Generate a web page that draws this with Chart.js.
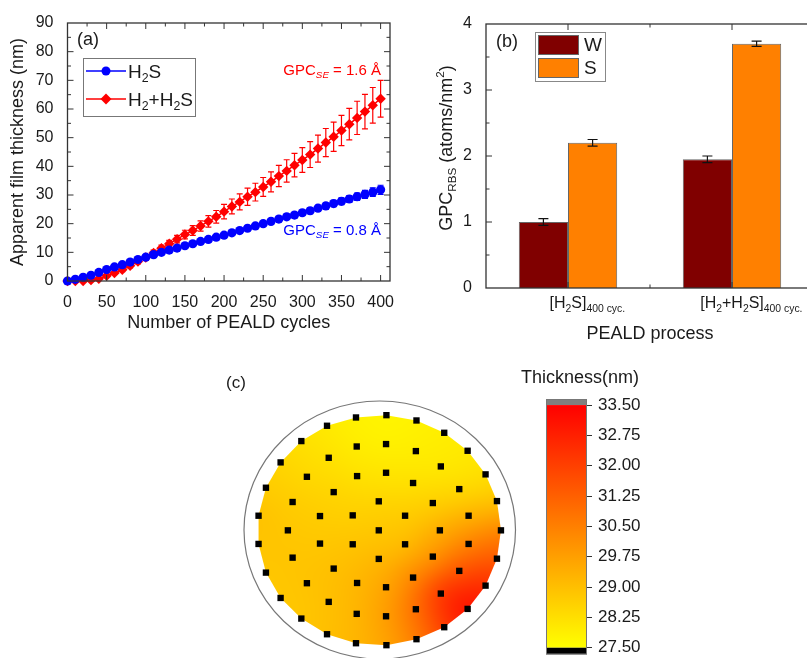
<!DOCTYPE html>
<html>
<head>
<meta charset="utf-8">
<script src="https://cdn.jsdelivr.net/npm/chart.js@4.4.0/dist/chart.umd.min.js"></script>
<style>
  html, body { margin: 0; padding: 0; background: #fff; overflow: hidden; width: 807px; height: 658px; }
  canvas { position: absolute; }
</style>
</head>
<body>
<canvas id="chartA" width="400" height="340" style="left:0;top:0"></canvas>
<canvas id="chartB" width="420" height="345" style="left:400px;top:0"></canvas>
<canvas id="chartC" width="320" height="320" style="left:200px;top:360px"></canvas>
<canvas id="chartD" width="307" height="310" style="left:500px;top:360px"></canvas>
<script>
// ---- (a) thickness vs cycles ----
const cycles = [0,10,20,30,40,50,60,70,80,90,100,110,120,130,140,150,160,170,180,190,200,
  210,220,230,240,250,260,270,280,290,300,310,320,330,340,350,360,370,380,390,400];
const h2sThick = [0,0.6,1.3,2.0,3.0,4.0,4.9,5.7,6.6,7.5,8.3,9.2,10.0,10.8,11.5,12.3,13.0,13.8,14.5,15.3,16.0,
  16.8,17.6,18.4,19.2,20.0,20.8,21.6,22.4,23.0,23.8,24.5,25.4,26.2,27.0,27.8,28.6,29.4,30.2,31.0,31.8];
const h2sErr = [0.1,0.1,0.2,0.2,0.2,0.3,0.3,0.3,0.3,0.4,0.4,0.4,0.4,0.5,0.5,0.5,0.5,0.5,0.6,0.6,0.6,
  0.6,0.7,0.7,0.7,0.8,0.8,0.8,0.9,0.9,0.9,1.0,1.0,1.1,1.1,1.2,1.2,1.3,1.4,1.5,1.6];
const h2h2sThick = [0,0,0,0.3,0.8,1.8,2.8,3.9,5.3,6.8,8.2,9.8,11.4,13.0,14.6,16.2,17.6,19.2,20.8,22.4,24.2,
  26.0,27.6,29.4,31.0,32.8,34.6,36.6,38.4,40.4,42.2,44.1,46.2,48.3,50.3,52.5,54.7,56.9,59.1,61.3,63.6];
const h2h2sErr = [0.3,0.3,0.3,0.4,0.4,0.5,0.5,0.6,0.7,0.8,0.9,1.0,1.1,1.2,1.3,1.5,1.7,1.8,2.0,2.2,2.5,
  2.6,2.8,3.0,3.1,3.3,3.5,3.7,3.9,4.1,4.3,4.5,4.7,4.9,5.1,5.3,5.5,5.8,6.0,6.2,6.4];
const cycleTicks = [0,50,100,150,200,250,300,350,400];
const thickTicks = [0,10,20,30,40,50,60,70,80,90];

// ---- (b) GPC from RBS ----
const processes = ['[H2S]', '[H2+H2S]'];
const gpcW = [1.00, 1.95];
const gpcWErr = [0.05, 0.05];
const gpcS = [2.20, 3.70];
const gpcSErr = [0.05, 0.04];

// ---- (c) wafer map, site positions (mm) and thickness (nm) ----
const siteX = [-19.6,5.5,30.3,-43.5,53.2,-64.7,-19.0,5.2,29.8,72.5,-42.1,-81.8,50.4,87.3,-60.1,-18.7,5.2,27.5,-93.9,65.6,
  -38.0,-71.9,-0.8,43.8,96.7,-100.0,-49.3,-22.3,20.9,73.3,-75.8,-0.8,49.6,100.0,-100.0,-49.3,-22.3,20.9,73.3,-71.9,
  -0.8,43.8,96.7,-93.9,-38.0,65.6,27.5,-60.1,-18.7,5.2,87.3,-81.8,50.4,-42.1,29.8,72.5,-64.7,-19.0,5.2,53.2,
  -43.5,30.3,-19.6,5.5];
const siteY = [97.7,99.7,95.1,90.5,84.4,77.2,72.5,74.6,68.5,68.8,62.7,58.7,55.2,48.3,46.2,46.8,49.7,40.8,36.7,35.5,
  32.9,24.3,24.9,23.4,25.1,12.4,12.1,12.7,12.4,12.4,-0.3,-0.3,-0.3,-0.3,-12.1,-11.8,-12.4,-12.4,-12.1,-24.0,
  -25.1,-23.1,-24.9,-37.0,-33.5,-35.5,-41.3,-46.2,-46.0,-49.7,-48.3,-59.0,-55.2,-62.4,-68.8,-68.5,-76.9,-72.8,-74.9,-84.4,
  -90.5,-94.8,-98.3,-100.0];
const siteThick = [27.8,27.7,27.8,28.0,27.9,28.2,27.9,27.8,27.9,28.0,28.2,28.5,28.0,28.2,28.4,28.2,28.1,28.2,28.7,28.3,
  28.5,28.7,28.5,28.6,28.8,29.0,28.7,28.6,28.7,29.3,28.8,28.8,29.4,30.4,28.9,28.8,28.9,29.0,30.5,28.9,
  29.2,29.9,31.5,28.8,29.0,31.6,30.3,28.9,29.2,29.6,32.6,28.8,32.6,29.0,30.9,33.4,28.8,29.2,29.8,32.2,
  29.0,30.5,29.2,29.6];
const ringRadius = 112;
const thickMin = 27.5, thickMax = 33.5;
const colorTicks = [27.5,28.25,29.0,29.75,30.5,31.25,32.0,32.75,33.5];

const FONT = 'Liberation Sans, Arial, sans-serif';
const TXT = '#1a1a1a';

// text with sub/superscripts, parts = [[text, kind], ...]
function richWidth(ctx, parts, size) {
  let w = 0;
  parts.forEach(([t, k]) => {
    const s = k ? size * 0.65 : size;
    ctx.font = (k === 'isub' ? 'italic ' : '') + s + 'px ' + FONT;
    w += ctx.measureText(t).width;
  });
  return w;
}
function drawRich(ctx, parts, x, y, size, color) {
  ctx.save();
  ctx.fillStyle = color;
  ctx.textBaseline = 'alphabetic';
  ctx.textAlign = 'left';
  parts.forEach(([t, k]) => {
    const s = k ? size * 0.65 : size;
    ctx.font = (k === 'isub' ? 'italic ' : '') + s + 'px ' + FONT;
    let dy = 0;
    if (k === 'sub' || k === 'isub') dy = size * 0.22;
    if (k === 'sup') dy = -size * 0.42;
    ctx.fillText(t, x, y + dy);
    x += ctx.measureText(t).width;
  });
  ctx.restore();
}
function label(ctx, t, x, y, size, align) {
  ctx.save();
  ctx.fillStyle = TXT;
  ctx.font = size + 'px ' + FONT;
  ctx.textAlign = align || 'center';
  ctx.textBaseline = 'middle';
  ctx.fillText(t, x, y);
  ctx.restore();
}

// frame box with inward ticks on all four sides
const framePlugin = {
  id: 'frame',
  afterDraw(chart, args, opts) {
    if (!opts.on) return;
    const { ctx, chartArea: a, scales } = chart;
    ctx.save();
    ctx.strokeStyle = '#333';
    ctx.lineWidth = 1.3;
    ctx.strokeRect(a.left, a.top, a.right - a.left, a.bottom - a.top);
    ctx.lineWidth = 1;
    [scales.x, scales.y].forEach(sc => {
      const px = sc.ticks.map((t, i) => sc.getPixelForTick(i));
      const minor = [];
      for (let i = 0; i < px.length - 1; i++) minor.push((px[i] + px[i + 1]) / 2);
      if (px.length > 1) {
        const st = px[1] - px[0];
        minor.push(px[0] - st / 2, px[px.length - 1] + st / 2);
      }
      const horiz = sc.isHorizontal();
      const lo = horiz ? a.left : a.top, hi = horiz ? a.right : a.bottom;
      const draw = (p, len) => {
        if (p < lo + 2 || p > hi - 2) return;
        ctx.beginPath();
        if (horiz) {
          ctx.moveTo(p, a.bottom); ctx.lineTo(p, a.bottom - len);
          ctx.moveTo(p, a.top); ctx.lineTo(p, a.top + len);
        } else {
          ctx.moveTo(a.left, p); ctx.lineTo(a.left + len, p);
          ctx.moveTo(a.right, p); ctx.lineTo(a.right - len, p);
        }
        ctx.stroke();
      };
      px.forEach(p => draw(p, 6));
      minor.forEach(p => draw(p, 3.5));
    });
    ctx.restore();
  }
};

// vertical error bars from dataset.errorBars
function drawErrors(chart) {
  const { ctx } = chart;
  const ys = chart.scales.y;
  chart.data.datasets.forEach((ds, di) => {
    if (!ds.errorBars) return;
    const meta = chart.getDatasetMeta(di);
    ctx.save();
    ctx.strokeStyle = ds.errorColor;
    ctx.lineWidth = 1.2;
    meta.data.forEach((el, i) => {
      const v = typeof ds.data[i] === 'object' ? ds.data[i].y : ds.data[i];
      const e = ds.errorBars[i];
      const y1 = ys.getPixelForValue(v + e), y2 = ys.getPixelForValue(v - e);
      const c = ds.errorCap;
      ctx.beginPath();
      ctx.moveTo(el.x, y1); ctx.lineTo(el.x, y2);
      ctx.moveTo(el.x - c, y1); ctx.lineTo(el.x + c, y1);
      ctx.moveTo(el.x - c, y2); ctx.lineTo(el.x + c, y2);
      ctx.stroke();
    });
    ctx.restore();
  });
}
const errorUnder = { id: 'errUnder', beforeDatasetsDraw: drawErrors };
const errorOver = { id: 'errOver', afterDatasetsDraw: drawErrors };

// ---------- chart (a) ----------
const annotA = {
  id: 'annotA',
  afterDraw(chart) {
    const ctx = chart.ctx;
    label(ctx, '(a)', 88, 40, 18);
    // legend
    ctx.save();
    ctx.strokeStyle = '#777';
    ctx.lineWidth = 1;
    ctx.strokeRect(83.5, 58.5, 112, 58);
    ctx.lineWidth = 1.5;
    ctx.strokeStyle = '#0000ff';
    ctx.beginPath(); ctx.moveTo(86, 71); ctx.lineTo(126, 71); ctx.stroke();
    ctx.fillStyle = '#0000ff';
    ctx.beginPath(); ctx.arc(106, 71, 4.5, 0, Math.PI * 2); ctx.fill();
    ctx.strokeStyle = '#ff0000';
    ctx.beginPath(); ctx.moveTo(86, 99); ctx.lineTo(126, 99); ctx.stroke();
    ctx.fillStyle = '#ff0000';
    ctx.beginPath(); ctx.moveTo(106, 93.5); ctx.lineTo(111.5, 99); ctx.lineTo(106, 104.5); ctx.lineTo(100.5, 99); ctx.closePath(); ctx.fill();
    ctx.restore();
    drawRich(ctx, [['H', ''], ['2', 'sub'], ['S', '']], 128, 78, 19, TXT);
    drawRich(ctx, [['H', ''], ['2', 'sub'], ['+H', ''], ['2', 'sub'], ['S', '']], 128, 106, 19, TXT);
    const red = [['GPC', ''], ['SE', 'isub'], [' = 1.6 \u00c5', '']];
    const blue = [['GPC', ''], ['SE', 'isub'], [' = 0.8 \u00c5', '']];
    drawRich(ctx, red, 381 - richWidth(ctx, red, 15), 75, 15, '#ff0000');
    drawRich(ctx, blue, 381 - richWidth(ctx, blue, 15), 235, 15, '#0000ff');
  }
};

new Chart(document.getElementById('chartA'), {
  type: 'line',
  data: {
    datasets: [{
      label: 'H2S',
      data: cycles.map((c, i) => ({ x: c, y: h2sThick[i] })),
      borderColor: '#0000ff',
      backgroundColor: '#0000ff',
      borderWidth: 1.5,
      pointStyle: 'circle',
      pointRadius: 4.6,
      pointBorderWidth: 0,
      errorBars: h2sErr, errorColor: '#0000ff', errorCap: 3,
      clip: false
    }, {
      label: 'H2+H2S',
      data: cycles.map((c, i) => ({ x: c, y: h2h2sThick[i] })),
      borderColor: '#ff0000',
      backgroundColor: '#ff0000',
      borderWidth: 1.5,
      pointStyle: 'rectRot',
      pointRadius: 5.2,
      pointBorderWidth: 0,
      errorBars: h2h2sErr, errorColor: '#ff0000', errorCap: 3,
      clip: false
    }]
  },
  options: {
    responsive: false,
    animation: false,
    layout: { padding: { top: 23, right: 10, left: 0, bottom: 0 } },
    plugins: { legend: { display: false }, tooltip: { enabled: false }, frame: { on: true } },
    scales: {
      x: {
        type: 'linear', min: 0, max: 412,
        grid: { display: false }, border: { display: false },
        afterBuildTicks: s => { s.ticks = cycleTicks.map(v => ({ value: v })); },
        afterFit: s => { s.height = 59; },
        ticks: { color: TXT, font: { family: FONT, size: 16 }, padding: 4, maxRotation: 0 },
        title: { display: true, text: 'Number of PEALD cycles', color: TXT, font: { family: FONT, size: 18 }, padding: { top: 0, bottom: 6 } }
      },
      y: {
        min: 0, max: 90,
        grid: { display: false }, border: { display: false },
        afterBuildTicks: s => { s.ticks = thickTicks.map(v => ({ value: v })); },
        afterFit: s => { s.width = 67.5; },
        ticks: { color: TXT, font: { family: FONT, size: 16 }, padding: 6 },
        title: { display: true, text: 'Apparent film thickness (nm)', color: TXT, font: { family: FONT, size: 18 }, padding: { top: 7, bottom: 0 } }
      }
    }
  },
  plugins: [errorUnder, framePlugin, annotA]
});

// ---------- chart (b) ----------
const annotB = {
  id: 'annotB',
  afterDraw(chart) {
    const ctx = chart.ctx;
    const xs = chart.scales.x;
    label(ctx, '(b)', 107, 42, 18);
    ctx.save();
    ctx.strokeStyle = '#888';
    ctx.lineWidth = 1;
    ctx.strokeRect(135.5, 32.5, 70, 49);
    ctx.strokeStyle = '#666';
    ctx.fillStyle = '#800000';
    ctx.fillRect(138, 35, 41, 20); ctx.strokeRect(138.5, 35.5, 40, 19);
    ctx.fillStyle = '#ff8000';
    ctx.fillRect(138, 58, 41, 20); ctx.strokeRect(138.5, 58.5, 40, 19);
    ctx.restore();
    label(ctx, 'W', 184, 46, 19, 'left');
    label(ctx, 'S', 184, 69, 19, 'left');
    // category labels
    const partsList = [
      [['[H', ''], ['2', 'sub'], ['S]', '']],
      [['[H', ''], ['2', 'sub'], ['+H', ''], ['2', 'sub'], ['S]', '']]
    ];
    processes.forEach((p, i) => {
      const parts = partsList[i];
      const cx = xs.getPixelForTick(i);
      const w = richWidth(ctx, parts, 16);
      drawRich(ctx, parts.concat([['400 cyc.', 'sub']]), cx - w / 2, 308, 16, TXT);
    });
    // y title
    ctx.save();
    ctx.translate(52, 148);
    ctx.rotate(-Math.PI / 2);
    const yt = [['GPC', ''], ['RBS', 'sub'], [' (atoms/nm', ''], ['2', 'sup'], [')', '']];
    drawRich(ctx, yt, -richWidth(ctx, yt, 18) / 2, 0, 18, TXT);
    ctx.restore();
  }
};

new Chart(document.getElementById('chartB'), {
  type: 'bar',
  data: {
    labels: processes,
    datasets: [{
      label: 'W', data: gpcW, backgroundColor: '#800000', borderColor: '#666', borderWidth: 1,
      errorBars: gpcWErr, errorColor: '#111', errorCap: 5
    }, {
      label: 'S', data: gpcS, backgroundColor: '#ff8000', borderColor: '#666', borderWidth: 1,
      errorBars: gpcSErr, errorColor: '#111', errorCap: 5
    }]
  },
  options: {
    responsive: false,
    animation: false,
    layout: { padding: { top: 24, right: 6, left: 0, bottom: 0 } },
    datasets: { bar: { categoryPercentage: 0.6, barPercentage: 1.0 } },
    plugins: { legend: { display: false }, tooltip: { enabled: false }, frame: { on: true } },
    scales: {
      x: {
        grid: { display: false }, border: { display: false },
        ticks: { display: false },
        afterFit: s => { s.height = 57; },
        title: { display: true, text: 'PEALD process', color: TXT, font: { family: FONT, size: 18 }, padding: { top: 0, bottom: 0 } }
      },
      y: {
        min: 0, max: 4,
        grid: { display: false }, border: { display: false },
        ticks: { stepSize: 1, color: TXT, font: { family: FONT, size: 16 }, padding: 6 },
        afterFit: s => { s.width = 86; }
      }
    }
  },
  plugins: [framePlugin, errorOver, annotB]
});

// ---------- chart (c) wafer map ----------
function thickColor(v) {
  const t = Math.min(1, Math.max(0, (v - thickMin) / (thickMax - thickMin)));
  return [255, Math.round(255 * (1 - t)), 0];
}
function convexHull(pts) {
  const p = pts.slice().sort((a, b) => a[0] - b[0] || a[1] - b[1]);
  const cross = (o, a, b) => (a[0] - o[0]) * (b[1] - o[1]) - (a[1] - o[1]) * (b[0] - o[0]);
  const lower = [], upper = [];
  p.forEach(q => { while (lower.length > 1 && cross(lower[lower.length - 2], lower[lower.length - 1], q) <= 0) lower.pop(); lower.push(q); });
  p.slice().reverse().forEach(q => { while (upper.length > 1 && cross(upper[upper.length - 2], upper[upper.length - 1], q) <= 0) upper.pop(); upper.push(q); });
  return lower.slice(0, -1).concat(upper.slice(0, -1));
}
const heatPlugin = {
  id: 'heat',
  beforeDatasetsDraw(chart) {
    const { ctx, chartArea: a, scales: { x, y } } = chart;
    const cx = x.getPixelForValue(0), cy = y.getPixelForValue(0);
    const w = Math.ceil(a.right - a.left), h = Math.ceil(a.bottom - a.top);
    const off = document.createElement('canvas');
    off.width = w; off.height = h;
    const octx = off.getContext('2d');
    const img = octx.createImageData(w, h);
    const sig2 = 2 * 15 * 15;
    for (let py = 0; py < h; py++) {
      const Y = y.getValueForPixel(a.top + py + 0.5);
      for (let px = 0; px < w; px++) {
        const X = x.getValueForPixel(a.left + px + 0.5);
        if (X * X + Y * Y > 105 * 105) continue;
        let sw = 0, sv = 0;
        for (let i = 0; i < siteX.length; i++) {
          const dx = X - siteX[i], dy = Y - siteY[i];
          const wt = Math.exp(-(dx * dx + dy * dy) / sig2) + 1e-12;
          sw += wt; sv += wt * siteThick[i];
        }
        const c = thickColor(sv / sw);
        const k = (py * w + px) * 4;
        img.data[k] = c[0]; img.data[k + 1] = c[1]; img.data[k + 2] = c[2]; img.data[k + 3] = 255;
      }
    }
    octx.putImageData(img, 0, 0);
    const hull = convexHull(siteX.map((v, i) => [x.getPixelForValue(v), y.getPixelForValue(siteY[i])]));
    ctx.save();
    ctx.beginPath();
    hull.forEach((q, i) => i ? ctx.lineTo(q[0], q[1]) : ctx.moveTo(q[0], q[1]));
    ctx.closePath();
    ctx.clip();
    ctx.drawImage(off, a.left, a.top);
    ctx.restore();
    ctx.save();
    ctx.strokeStyle = '#777';
    ctx.lineWidth = 1.2;
    ctx.beginPath();
    ctx.ellipse(cx, cy, x.getPixelForValue(ringRadius) - cx, cy - y.getPixelForValue(ringRadius), 0, 0, Math.PI * 2);
    ctx.stroke();
    ctx.restore();
    label(ctx, '(c)', 36, 23, 17);
  }
};

new Chart(document.getElementById('chartC'), {
  type: 'scatter',
  data: {
    datasets: [{
      data: siteX.map((v, i) => ({ x: v, y: siteY[i] })),
      pointStyle: 'rect',
      pointRadius: 4.5,
      backgroundColor: '#000',
      borderWidth: 0,
      clip: false
    }]
  },
  options: {
    responsive: false,
    animation: false,
    layout: { padding: { left: 44, top: 41, right: 4, bottom: 21 } },
    plugins: { legend: { display: false }, tooltip: { enabled: false } },
    scales: {
      x: { display: false, min: -ringRadius, max: ringRadius },
      y: { display: false, min: -ringRadius, max: ringRadius }
    }
  },
  plugins: [heatPlugin]
});

// ---------- colour bar ----------
const barPlugin = {
  id: 'cbar',
  beforeDatasetsDraw(chart) {
    const { ctx, chartArea: a, scales: { y } } = chart;
    const yTop = y.getPixelForValue(thickMax), yBot = y.getPixelForValue(thickMin);
    ctx.save();
    ctx.fillStyle = '#808080';
    ctx.fillRect(a.left, a.top, a.right - a.left, yTop - a.top);
    const g = ctx.createLinearGradient(0, yTop, 0, yBot);
    g.addColorStop(0, 'rgb(' + thickColor(thickMax).join(',') + ')');
    g.addColorStop(1, 'rgb(' + thickColor(thickMin).join(',') + ')');
    ctx.fillStyle = g;
    ctx.fillRect(a.left, yTop, a.right - a.left, yBot - yTop);
    ctx.fillStyle = '#000';
    ctx.fillRect(a.left, yBot, a.right - a.left, a.bottom - yBot);
    ctx.strokeStyle = '#777';
    ctx.lineWidth = 1;
    ctx.strokeRect(a.left + 0.5, a.top + 0.5, a.right - a.left - 1, a.bottom - a.top);
    ctx.restore();
    label(ctx, 'Thickness(nm)', 80, 18, 18);
  }
};

new Chart(document.getElementById('chartD'), {
  type: 'bar',
  data: { labels: [''], datasets: [] },
  options: {
    responsive: false,
    animation: false,
    layout: { padding: { left: 46, top: 39, right: 0, bottom: 12 } },
    plugins: { legend: { display: false }, tooltip: { enabled: false } },
    scales: {
      x: { display: false },
      y: {
        position: 'right', min: 27.35, max: 33.65,
        border: { display: false },
        grid: { drawOnChartArea: false, drawTicks: true, tickLength: 5, color: '#333' },
        afterBuildTicks: s => { s.ticks = colorTicks.map(v => ({ value: v })); },
        afterFit: s => { s.width = 220; },
        ticks: { color: TXT, font: { family: FONT, size: 17 }, padding: 6, callback: v => Number(v).toFixed(2) }
      }
    }
  },
  plugins: [barPlugin]
});
</script>
</body>
</html>
